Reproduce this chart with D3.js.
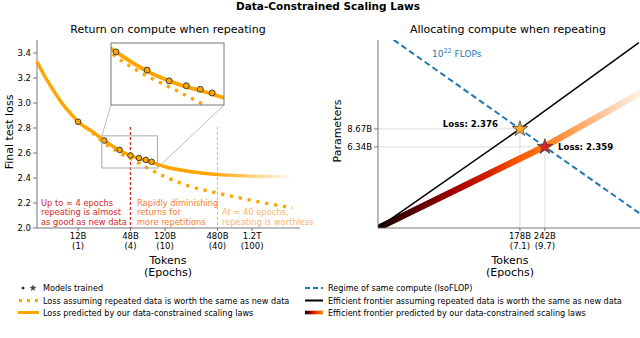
<!DOCTYPE html>
<html>
<head>
<meta charset="utf-8">
<script src="https://cdn.jsdelivr.net/npm/d3@7"></script>
<style>
  body { margin: 0; background: #fff; }
  text { font-family: "DejaVu Sans", sans-serif; }
</style>
</head>
<body>
<div id="canva"></div>
<script>
// ---- left panel: return on compute when repeating ----
var lossTokens   = [4.04e9, 5e9, 6e9, 8e9, 10e9, 12e9, 18e9, 24e9, 36e9, 48e9, 60e9, 72e9, 84e9, 120e9, 240e9, 480e9, 1000e9, 2000e9, 4000e9];
var lossPred     = [3.33, 3.21, 3.12, 2.99, 2.91, 2.85, 2.765, 2.70, 2.62, 2.58, 2.555, 2.54, 2.525, 2.49, 2.45, 2.427, 2.417, 2.412, 2.41];
var naiveTokens  = [12e9, 18e9, 24e9, 36e9, 48e9, 120e9, 240e9, 480e9, 1200e9, 3500e9];
var naiveLoss    = [2.85, 2.755, 2.68, 2.60, 2.555, 2.41, 2.33, 2.28, 2.22, 2.16];
var modelTokens  = [12e9, 24e9, 36e9, 48e9, 60e9, 72e9, 84e9];
var modelLoss    = [2.85, 2.70, 2.625, 2.58, 2.56, 2.545, 2.53];
var lossTicks    = [2.0, 2.2, 2.4, 2.6, 2.8, 3.0, 3.2, 3.4];
var tokenTicks   = [12e9, 48e9, 120e9, 480e9, 1200e9];
var tokenLabels  = ["12B", "48B", "120B", "480B", "1.2T"];
var epochLabels  = ["(1)", "(4)", "(10)", "(40)", "(100)"];

// ---- right panel: allocating compute when repeating ----
var isoTokens    = [37.6e9, 178e9, 242e9, 800e9];
var isoParams    = [41e9, 8.67e9, 6.34e9, 1.93e9];
var naiveFrontT  = [31e9, 178e9, 770e9];
var naiveFrontP  = [1.54e9, 8.67e9, 39e9];
var dcFrontT     = [31e9, 242e9, 800e9];
var dcFrontP     = [1.54e9, 6.4e9, 16.5e9];
var optTokens    = [178e9, 242e9];
var optParams    = [8.67e9, 6.34e9];
var optLoss      = ["2.376", "2.359"];
var optTokLabels = ["178B", "242B"];
var optEpochs    = ["(7.1)", "(9.7)"];
var optParLabels = ["8.67B", "6.34B"];

var W = 640, H = 338;
var svg = d3.select("#canva").append("svg").attr("width", W).attr("height", H);
var defs = svg.append("defs");

svg.append("text").attr("x", 328).attr("y", 10).attr("text-anchor", "middle")
   .attr("font-size", 10.5).attr("font-weight", "bold").text("Data-Constrained Scaling Laws");

// ================= LEFT =================
var xL = d3.scaleLog().domain([4.04e9, 4.27e12]).range([37, 300]);
var yL = d3.scaleLinear().domain([2.0, 3.504]).range([228, 40]);

svg.append("text").attr("x", 168).attr("y", 33).attr("text-anchor", "middle")
   .attr("font-size", 11).text("Return on compute when repeating");

var gl = svg.append("g");
gl.append("line").attr("x1", 37).attr("x2", 37).attr("y1", 40).attr("y2", 228).attr("stroke", "#555").attr("stroke-width", 0.8);
gl.append("line").attr("x1", 37).attr("x2", 300).attr("y1", 228).attr("y2", 228).attr("stroke", "#555").attr("stroke-width", 0.8);

gl.selectAll(".ytick").data(lossTicks).enter().append("line")
  .attr("x1", 33).attr("x2", 37).attr("y1", d => yL(d)).attr("y2", d => yL(d)).attr("stroke", "#555").attr("stroke-width", 0.8);
gl.selectAll(".ylab").data(lossTicks).enter().append("text")
  .attr("x", 31).attr("y", d => yL(d) + 3).attr("text-anchor", "end").attr("font-size", 8.5)
  .text(d => d3.format(".1f")(d));

gl.selectAll(".xtick").data(tokenTicks).enter().append("line")
  .attr("x1", d => xL(d)).attr("x2", d => xL(d)).attr("y1", 228).attr("y2", 231).attr("stroke", "#555").attr("stroke-width", 0.8);
gl.selectAll(".xlab").data(tokenTicks).enter().append("text")
  .attr("x", d => xL(d)).attr("y", 239).attr("text-anchor", "middle").attr("font-size", 8.5)
  .text((d, i) => tokenLabels[i]);
gl.selectAll(".xlab2").data(tokenTicks).enter().append("text")
  .attr("x", d => xL(d)).attr("y", 249).attr("text-anchor", "middle").attr("font-size", 8.5)
  .text((d, i) => epochLabels[i]);

gl.append("text").attr("x", 168).attr("y", 264).attr("text-anchor", "middle").attr("font-size", 11).text("Tokens");
gl.append("text").attr("x", 168).attr("y", 276).attr("text-anchor", "middle").attr("font-size", 11).text("(Epochs)");
gl.append("text").attr("transform", "translate(13,132) rotate(-90)").attr("text-anchor", "middle")
  .attr("font-size", 11).text("Final test loss");

// vertical markers
gl.append("line").attr("x1", xL(48e9)).attr("x2", xL(48e9)).attr("y1", 127).attr("y2", 228)
  .attr("stroke", "#d62728").attr("stroke-width", 1.3).attr("stroke-dasharray", "3,2");
gl.append("line").attr("x1", xL(480e9)).attr("x2", xL(480e9)).attr("y1", 127).attr("y2", 228)
  .attr("stroke", "#ffab5c").attr("stroke-width", 1).attr("stroke-dasharray", "3,2");

// fading gradient for predicted loss
var fade = defs.append("linearGradient").attr("id", "fade").attr("gradientUnits", "userSpaceOnUse")
  .attr("x1", 215).attr("x2", 292).attr("y1", 0).attr("y2", 0);
fade.append("stop").attr("offset", 0).attr("stop-color", "orange").attr("stop-opacity", 1);
fade.append("stop").attr("offset", 1).attr("stop-color", "orange").attr("stop-opacity", 0);

var lineL = d3.line().x(d => xL(d[0])).y(d => yL(d[1])).curve(d3.curveMonotoneX);
var predPts = lossTokens.map((t, i) => [t, lossPred[i]]);
var naivePts = naiveTokens.map((t, i) => [t, naiveLoss[i]]);

gl.append("path").datum(naivePts).attr("d", lineL).attr("fill", "none").attr("stroke", "orange")
  .attr("stroke-width", 3.3).attr("stroke-dasharray", "3.3,5.7");
gl.append("path").datum(predPts).attr("d", lineL).attr("fill", "none").attr("stroke", "url(#fade)")
  .attr("stroke-width", 3.5);

gl.selectAll(".model").data(modelTokens).enter().append("circle")
  .attr("cx", d => xL(d)).attr("cy", (d, i) => yL(modelLoss[i])).attr("r", 2.8)
  .attr("fill", "orange").attr("stroke", "#333").attr("stroke-width", 0.9);

// zoom box + connectors + inset
var xI = d3.scaleLog().domain([22.5e9, 98e9]).range([111, 224]);
var yI = d3.scaleLinear().domain([2.48, 2.737]).range([105, 43]);
var bx0 = xL(22.5e9), bx1 = xL(98e9), by0 = yL(2.737), by1 = yL(2.48);
gl.append("rect").attr("x", bx0).attr("y", by0).attr("width", bx1 - bx0).attr("height", by1 - by0)
  .attr("fill", "none").attr("stroke", "#aaa").attr("stroke-width", 1);
gl.append("line").attr("x1", 111).attr("y1", 105).attr("x2", bx0).attr("y2", by0).attr("stroke", "#aaa").attr("stroke-width", 0.8);
gl.append("line").attr("x1", 224).attr("y1", 105).attr("x2", bx1).attr("y2", by1).attr("stroke", "#aaa").attr("stroke-width", 0.8);

defs.append("clipPath").attr("id", "insetClip").append("rect")
  .attr("x", 111).attr("y", 43).attr("width", 113).attr("height", 62);
gl.append("rect").attr("x", 111).attr("y", 43).attr("width", 113).attr("height", 62).attr("fill", "#fff");
var gi = gl.append("g").attr("clip-path", "url(#insetClip)");
var lineI = d3.line().x(d => xI(d[0])).y(d => yI(d[1])).curve(d3.curveMonotoneX);
gi.append("path").datum(naivePts).attr("d", lineI).attr("fill", "none").attr("stroke", "orange")
  .attr("stroke-width", 3.3).attr("stroke-dasharray", "3.3,5.7");
gi.append("path").datum(predPts).attr("d", lineI).attr("fill", "none").attr("stroke", "orange")
  .attr("stroke-width", 3.8);
gi.selectAll(".imodel").data(modelTokens).enter().append("circle")
  .attr("cx", d => xI(d)).attr("cy", (d, i) => yI(modelLoss[i])).attr("r", 3)
  .attr("fill", "orange").attr("stroke", "#333").attr("stroke-width", 0.9);
gl.append("rect").attr("x", 111).attr("y", 43).attr("width", 113).attr("height", 62)
  .attr("fill", "none").attr("stroke", "#777").attr("stroke-width", 1);

// annotations
function note(x, y, lines, color) {
  gl.selectAll(null).data(lines).enter().append("text")
    .attr("x", x).attr("y", (d, i) => y + i * 9.3).attr("font-size", 8.3).attr("fill", color).text(d => d);
}
note(41, 206, ["Up to \u2248 4 epochs", "repeating is almost", "as good as new data"], "#d62728");
note(137, 206, ["Rapidly diminishing", "returns for", "more repetitions"], "#f47b30");
note(222, 215.3, ["At \u2248 40 epochs,", "repeating is worthless"], "#f9b574");

// ================= RIGHT =================
var xR = d3.scaleLog().domain([31e9, 800e9]).range([378, 378 + 187 * Math.log10(800 / 31)]);
var yR = d3.scaleLog().domain([1.54e9, 41e9]).range([228, 228 - 132 * Math.log10(41 / 1.54)]);

svg.append("text").attr("x", 508).attr("y", 33).attr("text-anchor", "middle")
   .attr("font-size", 11).text("Allocating compute when repeating");

var gr = svg.append("g");
defs.append("clipPath").attr("id", "rightClip").append("rect")
  .attr("x", 378).attr("y", 40).attr("width", 270).attr("height", 188);

// guide lines to optima
gr.selectAll(".hguide").data(optTokens).enter().append("line")
  .attr("x1", 378).attr("x2", d => xR(d)).attr("y1", (d, i) => yR(optParams[i])).attr("y2", (d, i) => yR(optParams[i]))
  .attr("stroke", "#ddd").attr("stroke-width", 1);
gr.selectAll(".vguide").data(optTokens).enter().append("line")
  .attr("x1", d => xR(d)).attr("x2", d => xR(d)).attr("y1", (d, i) => yR(optParams[i])).attr("y2", 228)
  .attr("stroke", "#ddd").attr("stroke-width", 1);

var heat = defs.append("linearGradient").attr("id", "heat").attr("gradientUnits", "userSpaceOnUse")
  .attr("x1", 378).attr("x2", 642).attr("y1", 0).attr("y2", 0);
[[0, "#1a0000"], [0.15, "#5c0000"], [0.3, "#a80000"], [0.42, "#d42000"], [0.52, "#ff5200"],
 [0.63, "#ff7c18"], [0.76, "#ffa964"], [0.9, "#ffd6b8"], [1, "#fff3ea"]].forEach(function(s) {
  heat.append("stop").attr("offset", s[0]).attr("stop-color", s[1]);
});

var gc = gr.append("g").attr("clip-path", "url(#rightClip)");
var lineR = d3.line().x(d => xR(d[0])).y(d => yR(d[1]));
gc.append("path").datum(dcFrontT.map((t, i) => [t, dcFrontP[i]])).attr("d", lineR)
  .attr("fill", "none").attr("stroke", "url(#heat)").attr("stroke-width", 6.5);
gc.append("path").datum(naiveFrontT.map((t, i) => [t, naiveFrontP[i]])).attr("d", lineR)
  .attr("fill", "none").attr("stroke", "#000").attr("stroke-width", 1.5);
gc.append("path").datum(isoTokens.map((t, i) => [t, isoParams[i]])).attr("d", lineR)
  .attr("fill", "none").attr("stroke", "#1f77b4").attr("stroke-width", 2).attr("stroke-dasharray", "6,3.5");

// axes
gr.append("line").attr("x1", 378).attr("x2", 378).attr("y1", 40).attr("y2", 228).attr("stroke", "#555").attr("stroke-width", 0.8);
gr.append("line").attr("x1", 378).attr("x2", 640).attr("y1", 228).attr("y2", 228).attr("stroke", "#555").attr("stroke-width", 0.8);
gr.selectAll(".rxt").data(optTokens).enter().append("line")
  .attr("x1", d => xR(d)).attr("x2", d => xR(d)).attr("y1", 228).attr("y2", 231).attr("stroke", "#555").attr("stroke-width", 0.8);
gr.selectAll(".rxl").data(optTokens).enter().append("text")
  .attr("x", d => xR(d)).attr("y", 239).attr("text-anchor", "middle").attr("font-size", 8.5).text((d, i) => optTokLabels[i]);
gr.selectAll(".rxl2").data(optTokens).enter().append("text")
  .attr("x", d => xR(d)).attr("y", 249).attr("text-anchor", "middle").attr("font-size", 8.5).text((d, i) => optEpochs[i]);
gr.selectAll(".ryt").data(optParams).enter().append("line")
  .attr("x1", 374).attr("x2", 378).attr("y1", d => yR(d)).attr("y2", d => yR(d)).attr("stroke", "#555").attr("stroke-width", 0.8);
gr.selectAll(".ryl").data(optParams).enter().append("text")
  .attr("x", 372).attr("y", d => yR(d) + 3).attr("text-anchor", "end").attr("font-size", 8.5).text((d, i) => optParLabels[i]);

gr.append("text").attr("x", 510).attr("y", 264).attr("text-anchor", "middle").attr("font-size", 11).text("Tokens");
gr.append("text").attr("x", 510).attr("y", 276).attr("text-anchor", "middle").attr("font-size", 11).text("(Epochs)");
gr.append("text").attr("transform", "translate(341,131) rotate(-90)").attr("text-anchor", "middle")
  .attr("font-size", 11).text("Parameters");

var flops = gr.append("text").attr("x", 432).attr("y", 57).attr("font-size", 9).attr("fill", "#1f77b4");
flops.append("tspan").text("10");
flops.append("tspan").attr("dy", -4).attr("font-size", 6.5).text("22");
flops.append("tspan").attr("dy", 4).text(" FLOPs");

// optimum stars
var star = d3.symbol().type(d3.symbolStar).size(75);
var starCols = ["#ffa726", "#d62728"];
gr.selectAll(".opt").data(optTokens).enter().append("path")
  .attr("d", star).attr("transform", (d, i) => "translate(" + xR(d) + "," + yR(optParams[i]) + ")")
  .attr("fill", (d, i) => starCols[i]).attr("stroke", "#444").attr("stroke-width", 0.8);
gr.append("text").attr("x", 498).attr("y", 127).attr("text-anchor", "end").attr("font-size", 8.6)
  .attr("font-weight", "bold").text("Loss: " + optLoss[0]);
gr.append("text").attr("x", 558).attr("y", 150).attr("font-size", 8.6)
  .attr("font-weight", "bold").text("Loss: " + optLoss[1]);

// ================= LEGENDS =================
var legL = ["Models trained", "Loss assuming repeated data is worth the same as new data", "Loss predicted by our data-constrained scaling laws"];
var legR = ["Regime of same compute (IsoFLOP)", "Efficient frontier assuming repeated data is worth the same as new data", "Efficient frontier predicted by our data-constrained scaling laws"];
var legY = [288, 300.5, 312.5];
var lg = svg.append("g");
lg.selectAll(".ltxt").data(legL).enter().append("text").attr("x", 43).attr("y", (d, i) => legY[i] + 3)
  .attr("font-size", 8.1).text(d => d);
lg.selectAll(".rtxt").data(legR).enter().append("text").attr("x", 328).attr("y", (d, i) => legY[i] + 3)
  .attr("font-size", 8.1).text(d => d);

lg.append("circle").attr("cx", 23).attr("cy", legY[0]).attr("r", 1.5).attr("fill", "#333");
lg.append("path").attr("d", d3.symbol().type(d3.symbolStar).size(16)).attr("transform", "translate(33," + legY[0] + ")").attr("fill", "#444");
lg.append("line").attr("x1", 19).attr("x2", 39).attr("y1", legY[1]).attr("y2", legY[1])
  .attr("stroke", "orange").attr("stroke-width", 3).attr("stroke-dasharray", "3,5");
lg.append("line").attr("x1", 18).attr("x2", 39).attr("y1", legY[2]).attr("y2", legY[2])
  .attr("stroke", "orange").attr("stroke-width", 3);

lg.append("line").attr("x1", 305).attr("x2", 323).attr("y1", legY[0]).attr("y2", legY[0])
  .attr("stroke", "#1f77b4").attr("stroke-width", 2).attr("stroke-dasharray", "5,3");
lg.append("line").attr("x1", 305).attr("x2", 323).attr("y1", legY[1]).attr("y2", legY[1])
  .attr("stroke", "#000").attr("stroke-width", 2);
var lgGrad = defs.append("linearGradient").attr("id", "legHeat");
[[0, "#000"], [0.35, "#b00000"], [0.6, "#ff3000"], [1, "#ff8c00"]].forEach(function(s) {
  lgGrad.append("stop").attr("offset", s[0]).attr("stop-color", s[1]);
});
lg.append("rect").attr("x", 305).attr("y", legY[2] - 1.8).attr("width", 18).attr("height", 3.6).attr("fill", "url(#legHeat)");
</script>
</body>
</html>
